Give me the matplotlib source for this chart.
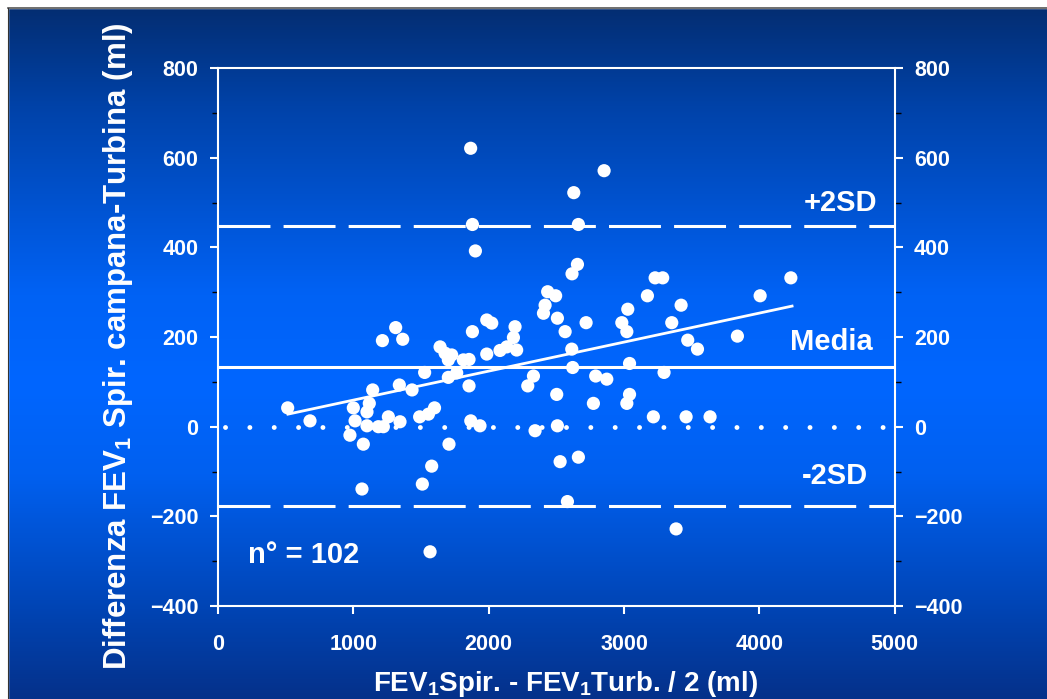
import numpy as np
import matplotlib
matplotlib.use("Agg")
import matplotlib.pyplot as plt
from matplotlib.colors import LinearSegmentedColormap
from matplotlib.ticker import MultipleLocator

plt.rcParams['font.family'] = ['Liberation Sans', 'DejaVu Sans']
plt.rcParams['font.weight'] = 'bold'
plt.rcParams['mathtext.fontset'] = 'custom'
plt.rcParams['mathtext.bf'] = 'Liberation Sans:bold'
plt.rcParams['mathtext.rm'] = 'Liberation Sans:bold'
plt.rcParams['mathtext.default'] = 'bf'

# media FEV1 (ml) e differenza spirometro a campana - turbina (ml)
fev_media = [515, 680, 1000, 1013, 975, 1074, 1064, 1101, 1118, 1143,
             1101, 1185, 1222, 1259, 1345, 1340, 1434, 1215, 1313, 1365,
             1527, 1490, 1555, 1600, 1707, 1579, 1510, 1567, 1641, 1678,
             1727, 1702, 1813, 1855, 1702, 1764, 1880, 1986, 2023, 1855,
             1868, 1936, 1986, 2084, 2134, 2195, 2183, 2207, 2289, 2331,
             2343, 2405, 2417, 2436, 2495, 2508, 2503, 2508, 2528, 2582,
             2565, 1867, 1880, 1902, 2853, 2629, 2663, 2656, 2616, 2720,
             2614, 2621, 2984, 3021, 3028, 3041, 2791, 2873, 3173, 3230,
             3286, 3422, 3353, 3471, 3543, 3296, 3838, 4006, 4233, 2663,
             3385, 2774, 3041, 3021, 3217, 3459, 3636]
differenza = [42, 13, 42, 13, -19, -39, -139, 33, 52, 82,
              2, 0, 0, 22, 11, 93, 82, 192, 221, 195,
              121, 22, 28, 42, -39, -88, -128, -279, 178, 164,
              160, 149, 149, 150, 110, 120, 212, 238, 231, 91,
              13, 2, 162, 170, 178, 223, 199, 171, 91, 113,
              -9, 253, 271, 301, 292, 242, 72, 2, -78, -167,
              212, 621, 451, 392, 571, 522, 451, 362, 341, 232,
              173, 132, 232, 212, 262, 141, 113, 106, 292, 332,
              332, 271, 232, 193, 173, 121, 202, 292, 332, -68,
              -228, 52, 72, 52, 22, 22, 22]

media = 134
sd_sup = 448
sd_inf = -177
regr_x = [517, 4242]
regr_y = [28, 269]

fig = plt.figure(figsize=(10.47, 6.99), dpi=100)

# sfondo sfumato
bg = fig.add_axes([0, 0, 1, 1], zorder=-10)
cmap = LinearSegmentedColormap.from_list('sfondo', [
    (0.0, '#042c6e'), (0.15, '#0042a8'), (0.42, '#0062f5'), (0.55, '#0066ff'),
    (0.68, '#0060f0'), (0.86, '#0046b8'), (1.0, '#05318a')])
grad = np.linspace(0, 1, 256).reshape(-1, 1)
bg.imshow(grad, aspect='auto', cmap=cmap, extent=[0, 1, 0, 1], origin='upper')
bg.add_patch(plt.Rectangle((0, 0.989), 1, 0.02, color='white', zorder=5))
bg.add_patch(plt.Rectangle((0, 0), 0.0075, 1, color='white', zorder=5))
bg.plot([0.0075, 1], [0.989, 0.989], color='#555555', lw=1.2, zorder=6)
bg.plot([0.0075, 0.0075], [0, 0.989], color='#333333', lw=0.8, zorder=6)
bg.set_xlim(0, 1)
bg.set_ylim(0, 1)
bg.axis('off')

ax = fig.add_axes([0.2082, 0.1330, 0.6463, 0.7697])
ax.patch.set_alpha(0)

ax.axhline(0, xmin=0.01, xmax=0.99, color='white', lw=3.5,
           ls=(0, (0.01, 5)), dash_capstyle='round')
ax.axhline(media, color='white', lw=2.2)
ax.axhline(sd_sup, color='white', lw=2.2, ls=(0, (17, 4.3)))
ax.axhline(sd_inf, color='white', lw=2.2, ls=(0, (17, 4.3)))
ax.plot(regr_x, regr_y, color='white', lw=2)
ax.scatter(fev_media, differenza, s=90, color='white', edgecolors='none', zorder=3)

ax.set_xlim(0, 5000)
ax.set_ylim(-400, 800)
ax.xaxis.set_major_locator(MultipleLocator(1000))
ax.yaxis.set_major_locator(MultipleLocator(200))
ax.yaxis.set_minor_locator(MultipleLocator(100))

for s in ax.spines.values():
    s.set_color('white')
    s.set_linewidth(1.5)
ax.tick_params(axis='both', which='major', colors='white', labelsize=15.5,
               length=6, width=1.5, direction='out')
ax.tick_params(axis='y', which='minor', colors='black', length=4, width=1)
ax.tick_params(axis='x', pad=14)
ax.tick_params(axis='y', pad=8, left=True, right=True, labelleft=True,
               labelright=True, which='both')

ax.text(4600, 500, '+2SD', color='white', fontsize=21, ha='center', va='center')
ax.text(4530, 190, 'Media', color='white', fontsize=21, ha='center', va='center')
ax.text(4560, -110, '-2SD', color='white', fontsize=21, ha='center', va='center')
ax.text(630, -287, 'n° = 102', color='white', fontsize=21, ha='center', va='center')

fig.text(0.113, 0.505, 'Differenza FEV$_1$ Spir. campana-Turbina (ml)', color='white',
         fontsize=22.5, rotation=90, ha='center', va='center')
fig.text(0.540, 0.022, 'FEV$_1$Spir. - FEV$_1$Turb. / 2 (ml)', color='white',
         fontsize=20, ha='center', va='center')

fig.savefig('out.png', dpi=100)
